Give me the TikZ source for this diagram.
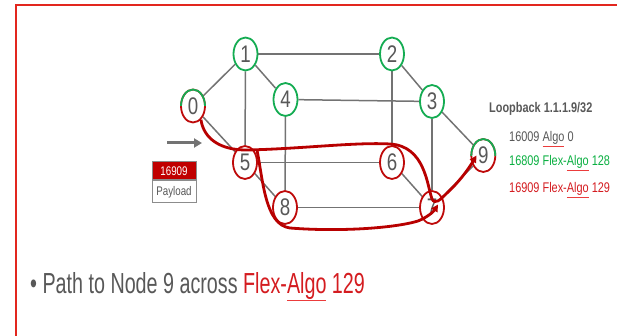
\documentclass[tikz,border=0pt]{standalone}
\usepackage{fontspec}
\newfontfamily\slidefont[FakeStretch=0.78]{Liberation Sans}
\newfontfamily\bulletfont[FakeStretch=0.68]{Liberation Sans}
\usetikzlibrary{arrows.meta,positioning,shapes.geometric,calc,backgrounds}
\usepackage{xcolor}

\definecolor{framered}{RGB}{226,38,30}
\definecolor{nodegreen}{RGB}{20,172,82}
\definecolor{nodered}{RGB}{190,10,10}
\definecolor{pathred}{RGB}{184,0,0}
\definecolor{boxred}{RGB}{192,0,0}
\definecolor{boxgray}{RGB}{140,140,140}
\definecolor{linkgray}{RGB}{115,115,115}
\definecolor{txtgray}{RGB}{88,88,88}
\definecolor{algogreen}{RGB}{10,175,65}
\definecolor{algored}{RGB}{212,28,32}
\definecolor{spellred}{RGB}{235,60,60}

\newcommand{\spellchk}[2]{\textcolor{spellred}{\underline{\textcolor{#1}{#2}}}}

\begin{document}
\begin{tikzpicture}[
        x=1pt, y=-1pt,
        router/.style={ellipse,draw,line width=1.8pt,fill=white,minimum width=24pt,minimum height=33pt,inner sep=0pt,text=txtgray,font=\slidefont\fontsize{24}{24}\selectfont},
        grnode/.style={router,draw=nodegreen},
        rdnode/.style={router,draw=nodered},
        link/.style={draw=linkgray,line width=1.5pt},
        flow/.style={draw=pathred,line width=2.8pt,-{Triangle[length=7pt,width=7pt]}},
        inarrow/.style={draw=linkgray,line width=3pt,-{Triangle[length=8pt,width=9pt]}},
        sidbox/.style={rectangle,draw=boxgray,line width=1pt,minimum width=44pt,inner sep=0pt,font=\slidefont\fontsize{12.5}{13}\selectfont},
        info/.style={anchor=base west,inner sep=0pt,font=\slidefont\fontsize{14}{16}\selectfont}
    ]
        \useasboundingbox (0,0) rectangle (617,336);
        \draw[framered,line width=2pt] (16,336) -- (16,5) -- (617,5);

        % routers
        \node[rdnode] (n0) at (193,106) {0};
        \node[grnode] (n1) at (245.5,54) {1};
        \node[grnode] (n2) at (392,54) {2};
        \node[grnode] (n3) at (432,101.5) {3};
        \node[grnode] (n4) at (285.5,99.5) {4};
        \node[rdnode] (n5) at (245,162.5) {5};
        \node[rdnode] (n6) at (392,162.5) {6};
        \node[rdnode] (n7) at (432,207.5) {7};
        \node[rdnode] (n8) at (285,207.5) {8};
        \node[rdnode] (n9) at (483.3,155.5) {9};

        % upper halves of 0 and 9 are green
        \foreach \n in {n0,n9}{
            \begin{scope}
                \clip ($(\n)+(-20,0)$) rectangle ($(\n)+(20,-25)$);
                \node[grnode,fill=none] at (\n) {};
            \end{scope}
        }

        % links
        \begin{scope}[on background layer]
            \foreach \a/\b in {n0/n1,n0/n5,n1/n2,n1/n4,n1/n5,n2/n3,n2/n6,n4/n3,n4/n8,n3/n9,n3/n7,n5/n6,n5/n8,n6/n7,n8/n7,n7/n9}
                \draw[link] (\a) -- (\b);
        \end{scope}

        % flex-algo 129 paths
        \draw[flow] (n0.-60) .. controls (204,140) and (222,150) .. (246,150)
            .. controls (300,149) and (355,142) .. (390,144)
            .. controls (425,146) and (427,185) .. (432,199)
            .. controls (435,205) and (440,200) .. (447,193)
            .. controls (458,183) and (468,170) .. ([xshift=6pt]n9.west);
        \draw[flow] ($(n5.north)+(12,5)$) .. controls (263,180) and (265,225) .. (290,228)
            .. controls (340,232) and (395,228) .. (418,221)
            .. controls (428,217) and (434,211) .. ($(n7)+(6,-3)$);

        % packet
        \coordinate (src) at (167,143);
        \coordinate (dst) at (202,143);
        \draw[inarrow] (src) -- (dst);
        \node[sidbox,fill=boxred,text=white,minimum height=18pt] (sid) at (174,171) {16909};
        \node[sidbox,fill=white,text=txtgray,minimum height=22pt,below=0pt of sid] (pay) {Payload};

        % loopback sids
        \node[info,text=txtgray,font=\slidefont\bfseries\fontsize{14}{16}\selectfont] (loop) at (489,113) {Loopback 1.1.1.9/32};
        \node[info,text=txtgray] (algo0) at (509,141.5) {16009 \spellchk{txtgray}{Algo} 0};
        \node[info,text=algogreen] (algo128) at (509,166) {16809 Flex-\spellchk{algogreen}{Algo} 128};
        \node[info,text=algored] (algo129) at (509,193) {16909 Flex-\spellchk{algored}{Algo} 129};

        \node[anchor=base west,inner sep=0pt,text=txtgray,font=\bulletfont\fontsize{29}{32}\selectfont] (caption) at (30,293)
            {\textbullet\ Path to Node 9 across \textcolor{algored}{Flex-\spellchk{algored}{Algo} 129}};
    \end{tikzpicture}
\end{document}
